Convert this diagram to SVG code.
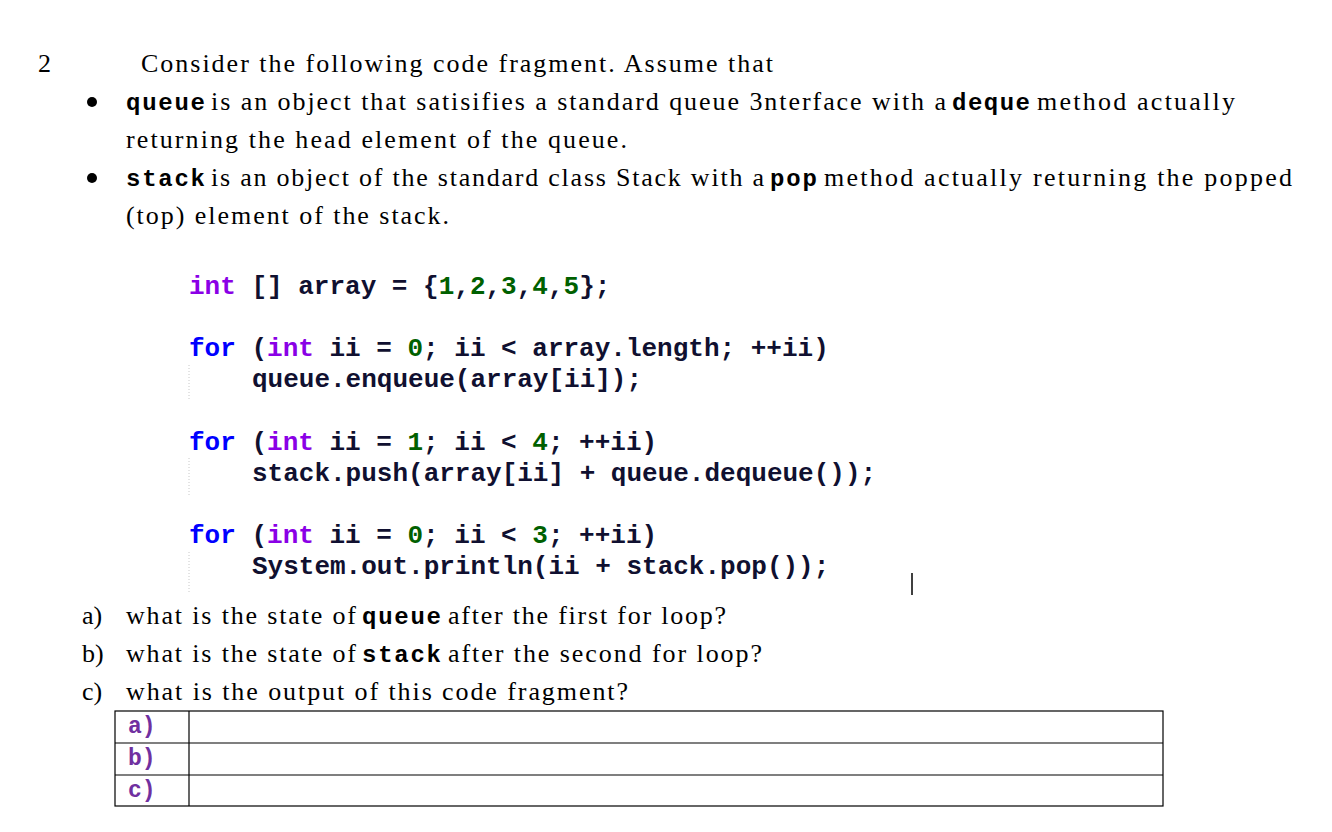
<svg xmlns="http://www.w3.org/2000/svg" width="1332" height="832" viewBox="0 0 1332 832">
<style>
.t{font-family:"Liberation Serif",serif;font-size:26px;fill:#000}
.m{font-family:"Liberation Mono",monospace;font-size:24px;font-weight:bold;fill:#000}
.c{font-family:"Liberation Mono",monospace;font-size:26px;font-weight:bold;fill:#101030;white-space:pre}
.k{fill:#8a00e6}.f{fill:#0000ff}.n{fill:#006000}
.l{font-family:"Liberation Mono",monospace;font-size:23px;font-weight:bold;fill:#7030a0}
.g{stroke:#c8c8c8;stroke-dasharray:1 2;stroke-width:1}
</style>
<rect width="1332" height="832" fill="#fff"/>
<g id="text">
<text class="t" x="38" y="72">2</text>
<text class="t" x="141" y="72" textLength="632">Consider the following code fragment.  Assume that</text>
<circle cx="92" cy="102" r="5"/>
<text class="m" x="126" y="110" textLength="79">queue</text>
<text class="t" x="211" y="110" textLength="735">is an object that satisifies a standard queue 3nterface with a</text>
<text class="m" x="952" y="110" textLength="78">deque</text>
<text class="t" x="1037" y="110" textLength="198">method actually</text>
<text class="t" x="126" y="148" textLength="501">returning the head element of the queue.</text>
<circle cx="92" cy="178" r="5"/>
<text class="m" x="126" y="186" textLength="79">stack</text>
<text class="t" x="211" y="186" textLength="553">is an object of the standard class Stack with a</text>
<text class="m" x="770" y="186" textLength="47">pop</text>
<text class="t" x="824" y="186" textLength="468">method actually returning the popped</text>
<text class="t" x="126" y="224" textLength="323">(top) element of the stack.</text>
</g>
<g id="code">
<text class="c" x="189" y="294"><tspan class="k">int</tspan> [] array = {<tspan class="n">1</tspan>,<tspan class="n">2</tspan>,<tspan class="n">3</tspan>,<tspan class="n">4</tspan>,<tspan class="n">5</tspan>};</text>
<text class="c" x="189" y="356"><tspan class="f">for</tspan> (<tspan class="k">int</tspan> ii = <tspan class="n">0</tspan>; ii &lt; array.length; ++ii)</text>
<text class="c" x="252" y="387">queue.enqueue(array[ii]);</text>
<text class="c" x="189" y="450"><tspan class="f">for</tspan> (<tspan class="k">int</tspan> ii = <tspan class="n">1</tspan>; ii &lt; <tspan class="n">4</tspan>; ++ii)</text>
<text class="c" x="252" y="481">stack.push(array[ii] + queue.dequeue());</text>
<text class="c" x="189" y="543"><tspan class="f">for</tspan> (<tspan class="k">int</tspan> ii = <tspan class="n">0</tspan>; ii &lt; <tspan class="n">3</tspan>; ++ii)</text>
<text class="c" x="252" y="574">System.out.println(ii + stack.pop());</text>
<line class="g" x1="189" y1="365" x2="189" y2="400"/>
<line class="g" x1="189" y1="458" x2="189" y2="496"/>
<line class="g" x1="189" y1="552" x2="189" y2="592"/>
<line x1="912" y1="573" x2="912" y2="595" stroke="#000" stroke-width="1.5"/>
</g>
<g id="questions">
<text class="t" x="82" y="624">a)</text>
<text class="t" x="126" y="624" textLength="230">what is the state of</text>
<text class="m" x="362" y="624" textLength="79">queue</text>
<text class="t" x="448" y="624" textLength="278">after the first for loop?</text>
<text class="t" x="82" y="662">b)</text>
<text class="t" x="126" y="662" textLength="230">what is the state of</text>
<text class="m" x="362" y="662" textLength="79">stack</text>
<text class="t" x="448" y="662" textLength="314">after the second for loop?</text>
<text class="t" x="82" y="700">c)</text>
<text class="t" x="126" y="700" textLength="502">what is the output of this code fragment?</text>
</g>
<g id="table" fill="none" stroke="#000" stroke-width="1.2">
<rect x="115" y="711" width="1048" height="95"/>
<line x1="115" y1="743" x2="1163" y2="743"/>
<line x1="115" y1="775" x2="1163" y2="775"/>
<line x1="189" y1="711" x2="189" y2="806"/>
</g>
<text class="l" x="128" y="733">a)</text>
<text class="l" x="128" y="765">b)</text>
<text class="l" x="128" y="797">c)</text>
</svg>
